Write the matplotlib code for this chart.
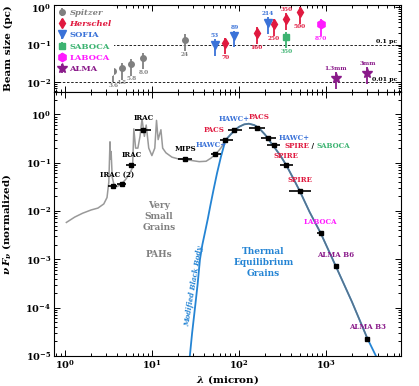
import matplotlib
matplotlib.use('Agg')
import matplotlib.pyplot as plt
import numpy as np
from matplotlib.offsetbox import TextArea, HPacker, AnnotationBbox

plt.rcParams['font.family'] = ['DejaVu Serif']
plt.rcParams['mathtext.fontset'] = 'dejavuserif'
plt.rcParams['font.weight'] = 'bold'
plt.rcParams['axes.labelweight'] = 'bold'

# colours
c_spitzer = '#808080'
c_herschel = '#e0193f'
c_sofia = '#3a72d8'
c_saboca = '#3cb371'
c_laboca = '#ff1aff'
c_alma = '#8a1a8a'
c_bb = '#2484d4'

# ---- top panel: beam sizes (pc) ----
spitzer_wl = [3.6, 4.5, 5.8, 8.0, 24]
spitzer_beam = [0.020, 0.0236, 0.030, 0.044, 0.137]
spitzer_lbl = ['3.6', '4.5', '5.8', '8.0', '24']

herschel_wl = [70, 160, 250, 350, 500]
herschel_beam = [0.11, 0.21, 0.35, 0.50, 0.73]
herschel_lbl = ['70', '160', '250', '350', '500']
herschel_above = [False, False, False, True, False]

sofia_wl = [53, 89, 214]
sofia_beam = [0.10, 0.17, 0.39]
sofia_lbl = ['53', '89', '214']

saboca_wl = [350]
saboca_beam = [0.16]
saboca_lbl = ['350']

laboca_wl = [870]
laboca_beam = [0.35]
laboca_lbl = ['870']

alma_wl = [1300, 3000]
alma_beam = [0.013, 0.0177]
alma_lbl = ['1.3mm', '3mm']

beam_err_lo = 0.5   # fraction of value
beam_err_hi = 0.4

# ---- bottom panel: SED ----
phot_wl = [3.6, 4.5, 5.8, 8.0, 24, 53, 70, 89, 160, 214, 250, 350, 500, 870, 1300, 3000]
phot_val = [0.033, 0.037, 0.089, 0.48, 0.118, 0.15, 0.30, 0.48, 0.53, 0.32, 0.23,
            0.089, 0.026, 0.0035, 7.2e-4, 2.3e-5]
band_lo = [3.1, 4.0, 5.0, 6.4, 20, 48, 60, 75, 130, 180, 210, 295, 380, 790, 1300, 3000]
band_hi = [4.0, 5.0, 6.5, 9.8, 29, 63, 86, 108, 200, 265, 300, 420, 670, 960, 1300, 3000]

bb_wl = [27.3, 29, 31.3, 33.5, 35.7, 38, 40.6, 44, 47, 51, 56, 62, 70, 80, 90, 100,
         115, 130, 150, 170, 200, 214, 250, 300, 350, 420, 500, 650, 870, 1300,
         2000, 3000, 3760]
bb_val = [1e-5, 3e-5, 1e-4, 3e-4, 1e-3, 2e-3, 3.5e-3, 7e-3, 0.013, 0.027, 0.06, 0.13,
          0.29, 0.38, 0.47, 0.55, 0.62, 0.64, 0.60, 0.52, 0.38, 0.32, 0.22, 0.14,
          0.089, 0.048, 0.026, 0.0095, 0.0035, 7.2e-4, 1.3e-4, 2.3e-5, 1e-5]

dust_wl = [1.04, 1.3, 1.6, 2.0, 2.4, 2.8, 3.05, 3.2, 3.3, 3.35, 3.4, 3.5, 3.7, 4.0,
           4.5, 5.0, 5.5, 6.0, 6.2, 6.5, 6.9, 7.3, 7.7, 8.2, 8.6, 9.2, 10.0, 10.8,
           11.3, 11.8, 12.7, 13.3, 14.5, 17, 20, 25, 35, 42, 48, 55, 62]
dust_val = [0.0058, 0.0075, 0.009, 0.0105, 0.0115, 0.014, 0.019, 0.04, 0.27, 0.12,
            0.17, 0.05, 0.033, 0.032, 0.037, 0.045, 0.058, 0.08, 0.5, 0.2, 0.2, 0.35,
            0.8, 0.35, 0.6, 0.2, 0.14, 0.2, 0.75, 0.3, 0.48, 0.2, 0.16, 0.13, 0.12,
            0.115, 0.105, 0.107, 0.125, 0.155, 0.2]

# total curve: dust emission, then follows the black body up to 3 mm
tot_wl = dust_wl + [w for w in bb_wl if 70 <= w <= 3000]
tot_val = dust_val + [v for w, v in zip(bb_wl, bb_val) if 70 <= w <= 3000]

fig = plt.figure(figsize=(4.19, 3.86), dpi=100)
ax1 = fig.add_axes([0.1289, 0.7617, 0.8282, 0.2254])
ax2 = fig.add_axes([0.1289, 0.0777, 0.8282, 0.6840])

xlim = (0.75, 7300)

# ---------------- top panel ----------------
def beam_series(wl, beam, color, marker, ms, label, lbls, above):
    b = np.array(beam)
    h = ax1.errorbar(wl, b, yerr=[b * beam_err_lo, b * beam_err_hi], fmt=marker,
                     color=color, ms=ms, lw=1.3, capsize=0, label=label, zorder=4)
    for w, v, t, up in zip(wl, b, lbls, above):
        dy = 6.5 if up else -10.5
        ax1.annotate(t, (w, v), xytext=(0, dy), textcoords='offset points',
                     ha='center', va='center', fontsize=4.2, color=color,
                     fontweight='bold')
    return h

beam_series(spitzer_wl, spitzer_beam, c_spitzer, 'o', 4, 'Spitzer',
            spitzer_lbl, [False] * 5)
beam_series(herschel_wl, herschel_beam, c_herschel, 'd', 5, 'Herschel',
            herschel_lbl, herschel_above)
beam_series(sofia_wl, sofia_beam, c_sofia, 'v', 6, 'SOFIA', sofia_lbl, [True] * 3)
beam_series(saboca_wl, saboca_beam, c_saboca, 's', 5, 'SABOCA', saboca_lbl, [False])
beam_series(laboca_wl, laboca_beam, c_laboca, 'h', 6, 'LABOCA', laboca_lbl, [False])
beam_series(alma_wl, alma_beam, c_alma, '*', 7, 'ALMA', alma_lbl, [True] * 2)

ax1.axhline(0.1, ls='--', lw=0.6, color='k', dashes=(3, 2), zorder=1)
ax1.axhline(0.01, ls='--', lw=0.6, color='k', dashes=(3, 2), zorder=1)
tr = ax1.get_yaxis_transform()
ax1.text(0.99, 0.104, '0.1 pc', transform=tr, ha='right', va='bottom', fontsize=4.5)
ax1.text(0.99, 0.0104, '0.01 pc', transform=tr, ha='right', va='bottom', fontsize=4.5)

ax1.set_xscale('log')
ax1.set_yscale('log')
ax1.set_xlim(*xlim)
ax1.set_ylim(0.0055, 1.15)
ax1.set_ylabel('Beam size (pc)', fontsize=7.5)
ax1.yaxis.set_label_coords(-0.118, 0.5)

leg = ax1.legend(loc='upper left', fontsize=6, frameon=True, facecolor='white',
                 edgecolor='none', framealpha=1, handlelength=1.0,
                 handletextpad=0.4, labelspacing=0.4, borderaxespad=0.15,
                 borderpad=0.3)
leg.set_zorder(6)
leg_cols = [c_spitzer, c_herschel, c_sofia, c_saboca, c_laboca, c_alma]
for i, (t, c) in enumerate(zip(leg.get_texts(), leg_cols)):
    t.set_color(c)
    if i < 2:
        t.set_fontstyle('italic')

# ---------------- bottom panel ----------------
ax2.plot(bb_wl, bb_val, color=c_bb, lw=1.3, zorder=2)
ax2.plot(tot_wl, tot_val, color='#6e6e6e', alpha=0.7, lw=1.1, zorder=3)

pw = np.array(phot_wl, dtype=float)
xe = [pw - np.array(band_lo), np.array(band_hi) - pw]
ax2.errorbar(pw, phot_val, xerr=xe, fmt='s', color='k', ms=3.5, lw=1.2,
             capsize=0, zorder=5)

def lab(x, y, s, c, **kw):
    ax2.text(x, y, s, color=c, fontsize=5, ha=kw.pop('ha', 'center'),
             va='center', fontweight='bold', **kw)

lab(8.0, 0.85, 'IRAC', 'k')
lab(5.8, 0.145, 'IRAC', 'k')
lab(4.0, 0.057, 'IRAC (2)', 'k')
lab(24, 0.19, 'MIPS', 'k')
lab(48, 0.235, 'HAWC+', c_sofia)
lab(52, 0.48, 'PACS', c_herschel)
lab(89, 0.79, 'HAWC+', c_sofia)
lab(170, 0.88, 'PACS', c_herschel)
lab(285, 0.33, 'HAWC+', c_sofia, ha='left')
lab(350, 0.14, 'SPIRE', c_herschel)
lab(500, 0.043, 'SPIRE', c_herschel)
lab(870, 0.006, 'LABOCA', c_laboca)
lab(1300, 0.00122, 'ALMA B6', c_alma)
lab(3000, 3.9e-5, 'ALMA B3', c_alma)

tp = dict(fontsize=5, fontweight='bold', family='DejaVu Serif')
pack = HPacker(children=[TextArea('SPIRE', textprops=dict(color=c_herschel, **tp)),
                         TextArea(' / ', textprops=dict(color='k', **tp)),
                         TextArea('SABOCA', textprops=dict(color=c_saboca, **tp))],
               pad=0, sep=0, align='baseline')
ab = AnnotationBbox(pack, (333, 0.22), xycoords='data', box_alignment=(0, 0.5),
                    frameon=False, pad=0)
ax2.add_artist(ab)

ax2.text(12, 0.0078, 'Very\nSmall\nGrains', color='#808080', fontsize=6.5,
         ha='center', va='center', linespacing=1.3, fontweight='bold')
ax2.text(12, 0.00128, 'PAHs', color='#808080', fontsize=6.5, ha='center',
         va='center', fontweight='bold')
ax2.text(192, 8.6e-4, 'Thermal\nEquilibrium\nGrains', color=c_bb, fontsize=6.5,
         ha='center', va='center', linespacing=1.3, fontweight='bold')
ax2.text(30.3, 2.8e-4, 'Modified Black Body', color=c_bb, fontsize=5,
         ha='center', va='center', rotation=80.5, fontstyle='italic',
         fontweight='bold')

ax2.set_xscale('log')
ax2.set_yscale('log')
ax2.set_xlim(*xlim)
ax2.set_ylim(1e-5, 2.9)
ax2.set_xlabel(r'$\lambda$ (micron)', fontsize=7.5, labelpad=1)
ax2.set_ylabel(r'$\nu\,F_\nu$ (normalized)', fontsize=7.5)
ax2.yaxis.set_label_coords(-0.118, 0.5)

for ax in (ax1, ax2):
    ax.tick_params(which='both', direction='in', top=True, right=True,
                   labelsize=7, width=0.7, pad=2)
    ax.tick_params(which='major', length=4)
    ax.tick_params(which='minor', length=2)
    ax.yaxis.set_minor_locator(matplotlib.ticker.LogLocator(subs=np.arange(2, 10), numticks=20))
    ax.xaxis.set_minor_locator(matplotlib.ticker.LogLocator(subs=np.arange(2, 10), numticks=20))
    for sp in ax.spines.values():
        sp.set_linewidth(0.8)
ax1.tick_params(labelbottom=False)
ax2.yaxis.set_major_locator(matplotlib.ticker.LogLocator(numticks=20))

fig.savefig('out.png', dpi=100)
